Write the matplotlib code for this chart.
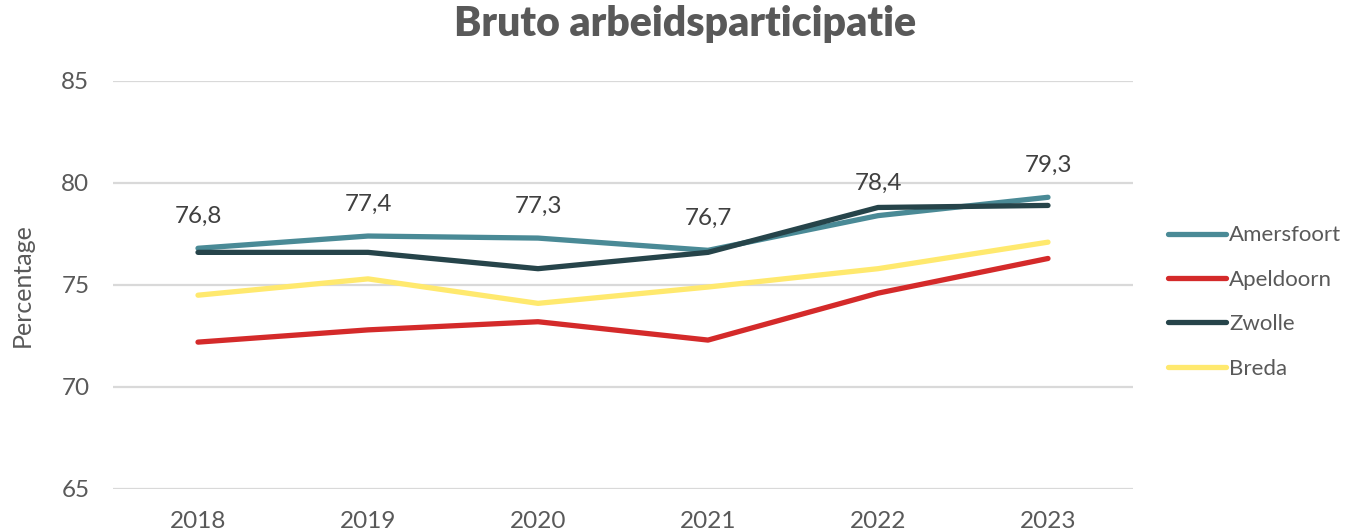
import matplotlib.pyplot as plt

years = ["2018", "2019", "2020", "2021", "2022", "2023"]
amersfoort = [76.8, 77.4, 77.3, 76.7, 78.4, 79.3]
apeldoorn = [72.2, 72.8, 73.2, 72.3, 74.6, 76.3]
zwolle = [76.6, 76.6, 75.8, 76.6, 78.8, 78.9]
breda = [74.5, 75.3, 74.1, 74.9, 75.8, 77.1]

plt.rcParams['font.family'] = ['Lato', 'DejaVu Sans']
txt = "#595959"

fig = plt.figure(figsize=(13.71, 5.31), dpi=100)
ax = fig.add_axes([113 / 1371, 42 / 531, 1020 / 1371, 408 / 531])

x = list(range(len(years)))
series = [
    ("Amersfoort", amersfoort, "#4A8A96"),
    ("Apeldoorn", apeldoorn, "#D42A2A"),
    ("Zwolle", zwolle, "#26444A"),
    ("Breda", breda, "#FFE96E"),
]
for name, vals, col in series:
    ax.plot(x, vals, color=col, lw=3.8, solid_capstyle="round", label=name)

# data labels only for Amersfoort
for xi, v in zip(x, amersfoort):
    ax.annotate(f"{v:.1f}".replace(".", ","), (xi, v), xytext=(0, 23),
                textcoords="offset points", ha="center", va="center",
                fontsize=17.5, color="#404040")

ax.set_xlim(-0.5, len(years) - 0.5)
ax.set_ylim(65, 85)
ax.set_yticks([65, 70, 75, 80, 85])
ax.set_xticks(x)
ax.set_xticklabels(years)
ax.grid(axis="y", color="#d9d9d9", lw=1.6)
ax.set_axisbelow(True)
for s in ax.spines.values():
    s.set_visible(False)
ax.tick_params(length=0, labelsize=17.5, labelcolor=txt, pad=16)
ax.tick_params(axis="y", pad=17)
ax.set_ylabel("Percentage", fontsize=18, color=txt, labelpad=20)

fig.suptitle("Bruto arbeidsparticipatie", fontsize=29.5, fontweight="heavy",
             color="#595959", y=0.99, x=0.5, va="top")

fig.legend(loc="center left", bbox_to_anchor=(1168 / 1371, 1 - 302 / 531),
           frameon=False, fontsize=16, labelcolor=txt, handlelength=2.6,
           handletextpad=0.15, labelspacing=1.1, borderpad=0,
           borderaxespad=0)

fig.savefig("out.png", dpi=100)
